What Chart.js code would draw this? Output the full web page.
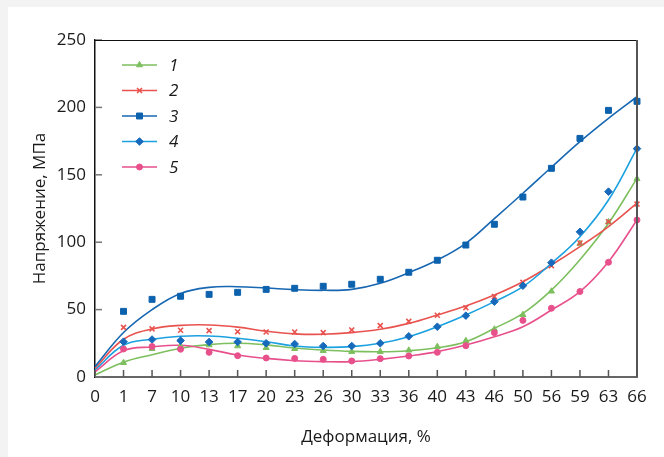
<!DOCTYPE html>
<html>
<head>
<meta charset="utf-8">
<script src="https://cdn.jsdelivr.net/npm/chart.js@4.4.1/dist/chart.umd.min.js"></script>
<style>
  html, body { margin: 0; padding: 0; background: #f3f3f3; }
  #wrap { position: absolute; left: 8px; top: 7px; width: 656px; height: 450px; background: #fff; }
</style>
</head>
<body>
<div id="wrap"><canvas id="chart" width="656" height="450"></canvas></div>
<script>
// Deformation categories (%)
const strain = ['0', '1', '7', '10', '13', '17', '20', '23', '26', '30', '33', '36', '40', '43', '46', '50', '56', '59', '63', '66'];

// Measured points, MPa
const pts1 = [null, 10.6, 21, 23, 23.7, 23, 21.7, 21, 19.5, 18.8, 18.8, 19.8, 22.5, 26.9, 35.4, 46.2, 63.6, 99, 115, 147];
const pts2 = [null, 36.8, 35.7, 34.7, 34.4, 33.6, 33.4, 33.4, 32.9, 34.9, 38.1, 41.3, 45.8, 51.4, 59.6, 70.2, 82.6, 99.4, 115.2, 128.3];
const pts3 = [null, 48.7, 57.6, 59.9, 61.3, 62.8, 65, 65.8, 67.3, 68.8, 72.5, 77.7, 86.6, 97.9, 113.3, 133.5, 154.8, 177, 197.8, 204.5];
const pts4 = [null, 26.2, 27.8, 27, 26, 26, 25, 24.5, 23, 23, 25, 30.2, 37.3, 45.5, 55.9, 67.7, 84.8, 107.7, 137.5, 169.4];
const pts5 = [null, 20.8, 22.6, 20.6, 18.3, 15.8, 14.1, 13.8, 13.1, 11.9, 13.6, 15.6, 18.3, 23.2, 32.9, 42, 51, 63.4, 85.1, 116.5];

// Trend curves
const trend1 = [1.5, 11, 16.5, 21.3, 24, 25, 23.8, 21.5, 20, 19, 18.7, 19.5, 21.7, 26.2, 36.1, 47.2, 64.5, 87, 114, 147.4];
const trend2 = [6.5, 28, 35.6, 38.3, 38.6, 37, 34, 32, 31.7, 32.9, 35.4, 39.8, 46, 52.7, 60.8, 70.7, 83.1, 96.7, 111.5, 128.9];
const trend3 = [7.7, 33, 50, 62, 66.5, 67, 66, 64.8, 64.3, 65, 69.5, 77.4, 86.8, 99.2, 117.5, 136.3, 155.6, 174.6, 191.9, 207.9];
const trend4 = [5.2, 23.5, 28, 30.2, 30.4, 28.7, 26.2, 23, 22, 22.5, 25, 29.9, 37.3, 46, 55.9, 67, 84.3, 104.1, 131.3, 169.6];
const trend5 = [3.9, 19.5, 22.3, 23.5, 20.5, 16.3, 13.8, 12.1, 11.4, 11.4, 13.1, 15.6, 18.8, 23.7, 29.9, 37.3, 49.7, 63.3, 85.5, 116.5];

const seriesNames = ['1', '2', '3', '4', '5'];
const yTicks = [0, 50, 100, 150, 200, 250];

const styles = [
    { line: '#7dbf5e', mark: '#7dbf5e', shape: 'triangle', r: 3.5 },
    { line: '#e8534f', mark: '#e8534f', shape: 'crossRot', r: 3.5 },
    { line: '#1767b2', mark: '#0d62ae', shape: 'rect', r: 4.2 },
    { line: '#1ba0e0', mark: '#1669bb', shape: 'rectRot', r: 3.8 },
    { line: '#e8508c', mark: '#e8508c', shape: 'circle', r: 3 }
];

const pointSets = [pts1, pts2, pts3, pts4, pts5];
const trendSets = [trend1, trend2, trend3, trend4, trend5];

const datasets = [];
trendSets.forEach((data, i) => {
    datasets.push({
        label: 'trend ' + seriesNames[i],
        data: data,
        borderColor: styles[i].line,
        borderWidth: 1.6,
        pointRadius: 0,
        tension: 0.4,
        fill: false,
        order: 20 - i
    });
});
pointSets.forEach((data, i) => {
    datasets.push({
        label: seriesNames[i],
        data: data,
        showLine: false,
        pointStyle: styles[i].shape,
        pointRadius: styles[i].r,
        pointBackgroundColor: styles[i].mark,
        pointBorderColor: styles[i].mark,
        pointBorderWidth: styles[i].shape === 'crossRot' ? 1.6 : 1,
        order: 5 - i
    });
});

// tick marks pointing into the plot, plus top/right frame
const innerTicks = {
    id: 'innerTicks',
    afterDatasetsDraw(chart) {
        const { ctx, chartArea, scales } = chart;
        const x = scales.x, y = scales.y;
        ctx.save();
        ctx.strokeStyle = '#555';
        ctx.lineWidth = 1.5;
        x.ticks.forEach((t, i) => {
            const px = x.getPixelForTick(i);
            ctx.beginPath();
            ctx.moveTo(px, chartArea.bottom);
            ctx.lineTo(px, chartArea.bottom - 7);
            ctx.stroke();
        });
        ctx.strokeStyle = '#777';
        y.ticks.forEach((t, i) => {
            const py = y.getPixelForTick(i);
            ctx.beginPath();
            ctx.moveTo(chartArea.left, py);
            ctx.lineTo(chartArea.left + 7, py);
            ctx.stroke();
        });
        // frame
        ctx.strokeStyle = '#111';
        ctx.lineWidth = 1;
        ctx.beginPath();
        ctx.moveTo(chartArea.left, chartArea.top + 0.5);
        ctx.lineTo(chartArea.right, chartArea.top + 0.5);
        ctx.stroke();
        ctx.strokeStyle = '#555';
        ctx.lineWidth = 2;
        ctx.beginPath();
        ctx.moveTo(chartArea.right, chartArea.top);
        ctx.lineTo(chartArea.right, chartArea.bottom);
        ctx.stroke();
        ctx.restore();
    }
};

// legend drawn inside the plot area, top-left
const insideLegend = {
    id: 'insideLegend',
    afterDraw(chart) {
        const { ctx, chartArea } = chart;
        ctx.save();
        seriesNames.forEach((name, i) => {
            const st = styles[i];
            const y = chartArea.top + 25 + i * 25.5;
            const x0 = chartArea.left + 27;
            const x1 = chartArea.left + 62;
            ctx.strokeStyle = st.line;
            ctx.lineWidth = 1.6;
            ctx.beginPath();
            ctx.moveTo(x0, y);
            ctx.lineTo(x1, y);
            ctx.stroke();
            ctx.fillStyle = st.mark;
            ctx.strokeStyle = st.mark;
            ctx.lineWidth = st.shape === 'crossRot' ? 1.6 : 1;
            Chart.helpers.drawPoint(ctx, { pointStyle: st.shape, radius: st.r, borderWidth: ctx.lineWidth }, (x0 + x1) / 2, y);
            ctx.fillStyle = '#1a1a1a';
            ctx.font = 'italic 17px "Open Sans"';
            ctx.textBaseline = 'middle';
            ctx.fillText(name, chartArea.left + 74, y + 1);
        });
        ctx.restore();
    }
};

new Chart(document.getElementById('chart'), {
    type: 'line',
    data: { labels: strain, datasets: datasets },
    options: {
        responsive: false,
        animation: false,
        layout: { padding: { top: 33, right: 27, left: 0, bottom: 0 } },
        plugins: {
            legend: { display: false },
            tooltip: { enabled: false }
        },
        scales: {
            x: {
                type: 'category',
                offset: false,
                grid: { display: false, drawTicks: false },
                border: { display: true, color: '#666', width: 2 },
                ticks: {
                    color: '#1a1a1a',
                    font: { family: '"Open Sans"', size: 17 },
                    padding: 10,
                    maxRotation: 0,
                    autoSkip: false
                },
                title: {
                    display: true,
                    text: 'Деформация, %',
                    color: '#1a1a1a',
                    font: { family: '"Open Sans"', size: 17 },
                    padding: { top: 0, bottom: 10 }
                },
                afterFit: s => { s.height = 80; }
            },
            y: {
                min: 0,
                max: 250,
                afterBuildTicks: s => { s.ticks = yTicks.map(v => ({ value: v })); },
                grid: { display: false, drawTicks: false },
                border: { display: true, color: '#111', width: 1.5 },
                ticks: {
                    color: '#1a1a1a',
                    font: { family: '"Open Sans"', size: 17 },
                    padding: 9
                },
                title: {
                    display: true,
                    text: 'Напряжение, МПа',
                    color: '#1a1a1a',
                    font: { family: '"Open Sans"', size: 17 },
                    padding: { top: 22, bottom: 0 }
                },
                afterFit: s => { s.width = 87; }
            }
        }
    },
    plugins: [innerTicks, insideLegend]
});
</script>
</body>
</html>
